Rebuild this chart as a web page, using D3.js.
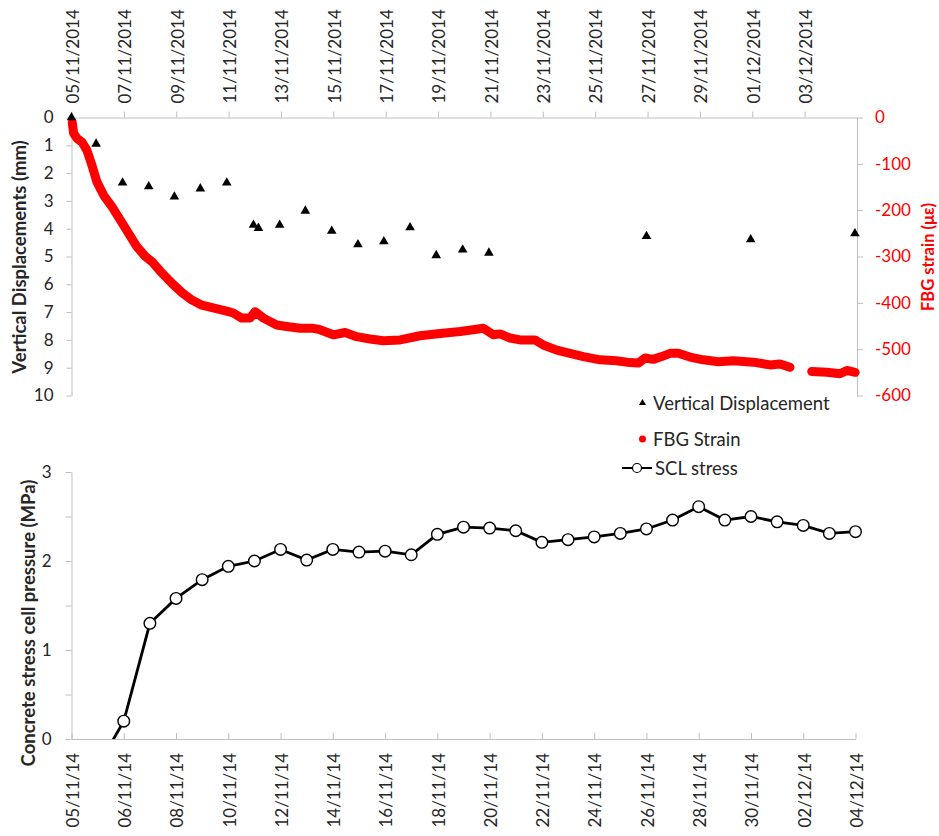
<!DOCTYPE html>
<html>
<head>
<meta charset="utf-8">
<script src="https://cdn.jsdelivr.net/npm/d3@7"></script>
<style>
  body { margin: 0; background: #fff; }
  text { font-family: Lato, "Open Sans", sans-serif; }
</style>
</head>
<body>
<script>
//top chart: displacement readings (days after 05/11/2014, mm)
var dispDay = [0, 0.94, 1.95, 2.95, 3.93, 4.92, 5.93, 6.95, 7.14, 7.95, 8.93, 9.94, 10.94, 11.93, 12.93, 13.93, 14.94, 15.94, 21.96, 25.94, 29.92];
var dispMm  = [0, 0.95, 2.35, 2.48, 2.85, 2.56, 2.35, 3.87, 3.98, 3.87, 3.36, 4.08, 4.57, 4.46, 3.96, 4.96, 4.76, 4.87, 4.27, 4.39, 4.17];

//FBG strain (days after 05/11/2014, microstrain), null = logger gap
var fbgDay = [0.03, 0.08, 0.21, 0.40, 0.59, 0.78, 0.97, 1.23, 1.55, 1.86, 2.18, 2.50, 2.82, 3.07, 3.46, 3.84, 4.22, 4.60, 4.98, 5.49,
              6.00, 6.18, 6.50, 6.82, 7.01, 7.33, 7.84, 8.22, 8.73, 9.24, 9.49, 10.00, 10.45, 10.89, 11.40, 11.91, 12.55, 13.31, 14.08, 14.84,
              15.48, 15.73, 16.11, 16.37, 16.75, 17.13, 17.70, 18.02, 18.53, 19.04, 19.55, 20.19, 20.82, 21.33, 21.65, 21.91, 22.22, 22.54, 22.86, 23.18,
              23.62, 24.13, 24.71, 25.28, 26.04, 26.68, 27.06, 27.44, 27.85, 28.27, 28.85, 29.35, 29.61, 29.93];
var fbgStrain = [-11, -34, -45, -53, -71, -103, -139, -168, -193, -221, -250, -279, -300, -311, -336, -358, -378, -394, -405, -412,
                 -419, -422, -433, -433, -419, -433, -448, -451, -455, -455, -458, -469, -464, -473, -478, -482, -480, -471, -466, -462,
                 -457, -455, -469, -467, -476, -480, -480, -491, -502, -509, -516, -523, -525, -529, -530, -519, -522, -516, -509, -509,
                 -517, -523, -527, -525, -528, -534, -532, -539, null, -548, -550, -553, -546, -550];

var topTickLabels = ["05/11/2014","07/11/2014","09/11/2014","11/11/2014","13/11/2014","15/11/2014","17/11/2014","19/11/2014",
                     "21/11/2014","23/11/2014","25/11/2014","27/11/2014","29/11/2014","01/12/2014","03/12/2014"];
var dispTicks = [0,1,2,3,4,5,6,7,8,9,10];
var strainTicks = [0,-100,-200,-300,-400,-500,-600];

//bottom chart: SCL stress per reading (category axis)
var categories = ["05/11/14","05/11/14","06/11/14","07/11/14","08/11/14","09/11/14","10/11/14","11/11/14","12/11/14","13/11/14",
                  "14/11/14","15/11/14","16/11/14","17/11/14","18/11/14","19/11/14","20/11/14","21/11/14","22/11/14","23/11/14",
                  "24/11/14","25/11/14","26/11/14","27/11/14","28/11/14","29/11/14","30/11/14","01/12/14","02/12/14","03/12/14","04/12/14"];
var sclStress = [null, -0.31, 0.20, 1.30, 1.58, 1.79, 1.94, 2.00, 2.13, 2.01, 2.13, 2.10, 2.11, 2.07, 2.30, 2.38,
                 2.37, 2.34, 2.21, 2.24, 2.27, 2.31, 2.36, 2.46, 2.61, 2.46, 2.50, 2.44, 2.40, 2.31, 2.33];
var bottomTickIdx = [0,2,4,6,8,10,12,14,16,18,20,22,24,26,28,30];
var stressTicks = [0,0.5,1,1.5,2,2.5,3];

//globals
var axisGrey = "#bfbfbf";
var textCol = "#262626";
var red = "#ff0000";
var startDate = new Date(2014, 10, 5);
var endDate = new Date(2014, 11, 5);
var dayMs = 86400000;
var parseTop = d3.timeParse("%d/%m/%Y");
function dayToDate(d){ return new Date(+startDate + d*dayMs); }

var svg = d3.select("body").append("svg")
    .attr("width", 939)
    .attr("height", 836);

svg.append("rect").attr("width",939).attr("height",836).attr("fill","#fff");

//scales
var xTop = d3.scaleTime().domain([startDate, endDate]).range([71.5, 857]);
var yDisp = d3.scaleLinear().domain([0, 10]).range([117.5, 395.5]);
var yStrain = d3.scaleLinear().domain([0, -600]).range([117.5, 395.5]);
var xBot = d3.scaleLinear().domain([0, 30]).range([71.5, 855.5]);
var yScl = d3.scaleLinear().domain([0, 3]).range([739, 472]);

function styleAxis(g, col){
    g.select(".domain").attr("stroke", axisGrey);
    g.selectAll(".tick line").attr("stroke", axisGrey);
    g.selectAll(".tick text").attr("fill", col || textCol).style("font-size","17px");
}

//top x axis (dates, rotated)
var gTopX = svg.append("g")
    .attr("transform","translate(0,117.5)")
    .call(d3.axisTop(xTop)
        .tickValues(topTickLabels.map(parseTop))
        .tickFormat(d3.timeFormat("%d/%m/%Y"))
        .tickSize(6).tickSizeOuter(0));
styleAxis(gTopX);
gTopX.selectAll(".tick text")
    .attr("transform","rotate(-90)")
    .attr("x", 14).attr("y", 0).attr("dy","0.4em")
    .attr("text-anchor","start");

//left displacement axis
var gDisp = svg.append("g")
    .attr("transform","translate(71.5,0)")
    .call(d3.axisLeft(yDisp).tickValues(dispTicks).tickSize(5).tickSizeOuter(0).tickPadding(13));
styleAxis(gDisp);

//right strain axis
var gStrain = svg.append("g")
    .attr("transform","translate(857,0)")
    .call(d3.axisRight(yStrain).tickValues(strainTicks).tickSize(6).tickSizeOuter(0).tickPadding(12)
        .tickFormat(function(d){ return String(d); }));
styleAxis(gStrain, red);

//FBG strain band
var fbgPts = fbgDay.map(function(d,i){ return {x: dayToDate(d), s: fbgStrain[i]}; });
svg.append("path")
    .datum(fbgPts)
    .attr("fill","none")
    .attr("stroke", red)
    .attr("stroke-width", 9)
    .attr("stroke-linecap","round")
    .attr("stroke-linejoin","round")
    .attr("d", d3.line()
        .defined(function(d){ return d.s !== null; })
        .x(function(d){ return xTop(d.x); })
        .y(function(d){ return yStrain(d.s); }));

//displacement triangles
svg.append("g").selectAll("path")
    .data(dispDay)
    .enter()
    .append("path")
    .attr("d", d3.symbol().type(d3.symbolTriangle).size(40))
    .attr("fill","#000")
    .attr("transform", function(d,i){
        return "translate(" + xTop(dayToDate(d)) + "," + yDisp(dispMm[i]) + ")";
    });

//axis titles top
svg.append("text")
    .attr("transform","translate(19,257) rotate(-90)")
    .attr("text-anchor","middle").attr("dominant-baseline","central")
    .attr("fill", textCol)
    .style("font-size","18.5px").style("font-weight","bold")
    .text("Vertical Displacements (mm)");

svg.append("text")
    .attr("transform","translate(928,257) rotate(-90)")
    .attr("text-anchor","middle").attr("dominant-baseline","central")
    .attr("fill", red)
    .style("font-size","16.5px").style("font-weight","bold")
    .text("FBG strain (με)");

//bottom chart
svg.append("clipPath").attr("id","botClip")
    .append("rect").attr("x",60).attr("y",460).attr("width",810).attr("height",279);

var gBotY = svg.append("g")
    .attr("transform","translate(71.5,0)")
    .call(d3.axisLeft(yScl).tickValues(stressTicks).tickSize(6).tickSizeOuter(0).tickPadding(14)
        .tickFormat(function(d){ return d % 1 === 0 ? String(d) : ""; }));
styleAxis(gBotY);

var gBotX = svg.append("g")
    .attr("transform","translate(0,739)")
    .call(d3.axisBottom(xBot).tickValues(bottomTickIdx).tickSize(-6).tickSizeOuter(0)
        .tickFormat(function(d){ return categories[d]; }));
styleAxis(gBotX);
gBotX.selectAll(".tick text")
    .attr("transform","rotate(-90)")
    .attr("x", -14).attr("y", 0).attr("dy","0.4em")
    .attr("text-anchor","end");

var sclPts = sclStress.map(function(v,i){ return {i: i, v: v}; });
var gScl = svg.append("g").attr("clip-path","url(#botClip)");
gScl.append("path")
    .datum(sclPts)
    .attr("fill","none")
    .attr("stroke","#000")
    .attr("stroke-width",2.8)
    .attr("d", d3.line()
        .defined(function(d){ return d.v !== null; })
        .x(function(d){ return xBot(d.i); })
        .y(function(d){ return yScl(d.v); }));
gScl.selectAll("circle")
    .data(sclPts.filter(function(d){ return d.v !== null; }))
    .enter()
    .append("circle")
    .attr("cx", function(d){ return xBot(d.i); })
    .attr("cy", function(d){ return yScl(d.v); })
    .attr("r", 5.8)
    .attr("fill","#fff")
    .attr("stroke","#000")
    .attr("stroke-width",1.4);

svg.append("text")
    .attr("transform","translate(28,623) rotate(-90)")
    .attr("text-anchor","middle").attr("dominant-baseline","central")
    .attr("fill", textCol)
    .style("font-size","18.5px").style("font-weight","bold")
    .text("Concrete stress cell pressure (MPa)");

//legend
var leg = svg.append("g");
leg.append("path")
    .attr("d", d3.symbol().type(d3.symbolTriangle).size(22))
    .attr("transform","translate(642.5,403)")
    .attr("fill","#000");
leg.append("text").attr("x",653).attr("y",403).attr("dominant-baseline","central")
    .attr("fill",textCol).style("font-size","18.5px").text("Vertical Displacement");

leg.append("circle").attr("cx",642.5).attr("cy",439).attr("r",3.5).attr("fill",red);
leg.append("text").attr("x",653).attr("y",439).attr("dominant-baseline","central")
    .attr("fill",textCol).style("font-size","18.5px").text("FBG Strain");

leg.append("line").attr("x1",622).attr("x2",652).attr("y1",468).attr("y2",468)
    .attr("stroke","#000").attr("stroke-width",2);
leg.append("circle").attr("cx",637).attr("cy",468).attr("r",4.5)
    .attr("fill","#fff").attr("stroke","#000").attr("stroke-width",1.2);
leg.append("text").attr("x",655).attr("y",468).attr("dominant-baseline","central")
    .attr("fill",textCol).style("font-size","18.5px").text("SCL stress");
</script>
</body>
</html>
